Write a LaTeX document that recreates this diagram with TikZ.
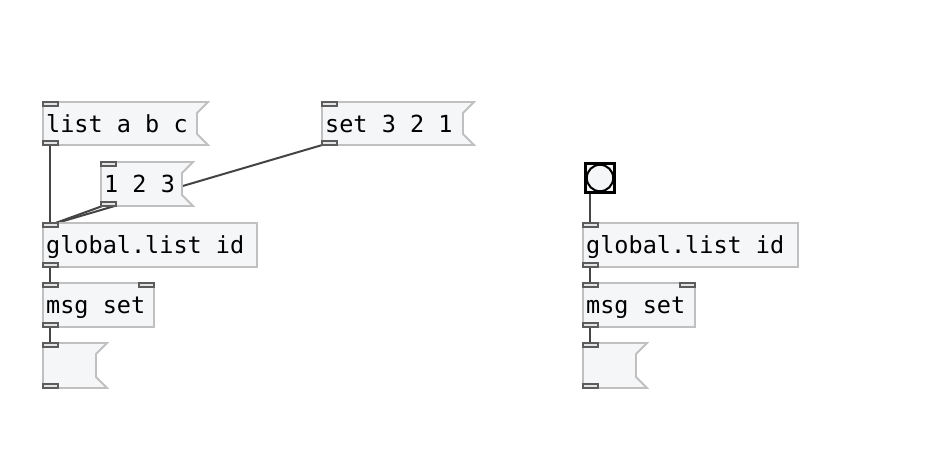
\documentclass[tikz,border=0pt]{standalone}
\usepackage{fontspec}
\setmonofont{DejaVu Sans Mono}
\usetikzlibrary{calc}
\definecolor{boxbg}{HTML}{F5F6F8}
\definecolor{boxline}{HTML}{C0C0C0}
\definecolor{portbg}{HTML}{E4E4E4}
\definecolor{portline}{HTML}{5C5C5C}
\definecolor{wirec}{HTML}{444444}
\tikzset{
  place/.style={anchor=north west, inner sep=0pt, outer sep=0pt, draw=none, minimum height=44pt},
  boxshape/.style={fill=boxbg, draw=boxline, line width=1.8pt},
  port/.style={fill=portbg, draw=portline, line width=1.4pt},
  wire/.style={draw=wirec, line width=2pt},
  lbl/.style={anchor=base west, inner sep=0pt, font=\ttfamily\fontsize{23.5}{23.5}\selectfont, text=black}
}
% message box outline
\newcommand{\pdmsgshape}[1]{%
  \path[boxshape] (#1.north west) -- (#1.north east) -- ($(#1.north east)+(-11,11)$)
    -- ($(#1.south east)+(-11,-11)$) -- (#1.south east) -- (#1.south west) -- cycle;}
\newcommand{\pdobjshape}[1]{%
  \path[boxshape] (#1.north west) rectangle (#1.south east);}
\newcommand{\pdinlet}[1]{%
  \path[port] (#1.north west) rectangle ($(#1.north west)+(15,4)$);}
\newcommand{\pdrinlet}[1]{%
  \path[port] (#1.north east) rectangle ($(#1.north east)+(-15,4)$);}
\newcommand{\pdoutlet}[1]{%
  \path[port] (#1.south west) rectangle ($(#1.south west)+(15,-4)$);}
\begin{document}
\begin{tikzpicture}[x=1pt,y=-1pt]
\useasboundingbox[fill=white] (0,0) rectangle (932,448);
% placement of boxes
\node[place, minimum width=165pt, minimum height=43pt] (msgA) at (43,102) {};
\node[place, minimum width=92pt] (msgB) at (101,162) {};
\node[place, minimum width=152pt, minimum height=43pt] (msgC) at (322,102) {};
\node[place, minimum width=214pt] (objD) at (43,223) {};
\node[place, minimum width=111pt] (objE) at (43,283) {};
\node[place, minimum width=64pt, minimum height=45pt] (msgF) at (43,343) {};
\node[place, minimum width=32pt, minimum height=32pt] (bangG) at (584,162) {};
\node[place, minimum width=215pt] (objH) at (583,223) {};
\node[place, minimum width=112pt] (objI) at (583,283) {};
\node[place, minimum width=64pt, minimum height=45pt] (msgJ) at (583,343) {};
% port coordinates
\foreach \n in {msgA,msgB,msgC,objD,objE,msgF,objH,objI,msgJ}{
  \coordinate (\n-in) at ($(\n.north west)+(7,2)$);
  \coordinate (\n-out) at ($(\n.south west)+(7,-2)$);
}
\coordinate (bangG-out) at ($(bangG.south west)+(6,0)$);
% wires
\draw[wire] (msgA-out) -- (objD-in);
\draw[wire] (msgC-out) -- (objD-in);
\draw[wire] (msgB-out) -- (objD-in);
\draw[wire] (objD-out) -- (objE-in);
\draw[wire] (objE-out) -- (msgF-in);
\draw[wire] (bangG-out) -- (objH-in);
\draw[wire] (objH-out) -- (objI-in);
\draw[wire] (objI-out) -- (msgJ-in);
% boxes
\pdmsgshape{msgA}\pdmsgshape{msgB}\pdmsgshape{msgC}\pdmsgshape{msgF}\pdmsgshape{msgJ}
\pdobjshape{objD}\pdobjshape{objE}\pdobjshape{objH}\pdobjshape{objI}
\foreach \n in {msgA,msgB,msgC,objD,objE,msgF,objH,objI,msgJ}{\pdinlet{\n}\pdoutlet{\n}}
\pdrinlet{objE}\pdrinlet{objI}
% bang
\path[fill=boxbg, draw=black, line width=3.3pt] ($(bangG.north west)+(1.6,1.6)$) rectangle ($(bangG.south east)+(-1.6,-1.6)$);
\draw[black, line width=2pt] (bangG.center) circle[radius=13.2pt];
% labels
\node[lbl] (tA) at ($(msgA.north west)+(3,30)$) {list a b c};
\node[lbl] (tB) at ($(msgB.north west)+(3,30)$) {1 2 3};
\node[lbl] (tC) at ($(msgC.north west)+(3,30)$) {set 3 2 1};
\node[lbl] (tD) at ($(objD.north west)+(3,30)$) {global.list id};
\node[lbl] (tE) at ($(objE.north west)+(3,30)$) {msg set};
\node[lbl] (tH) at ($(objH.north west)+(3,30)$) {global.list id};
\node[lbl] (tI) at ($(objI.north west)+(3,30)$) {msg set};
\end{tikzpicture}
\end{document}
